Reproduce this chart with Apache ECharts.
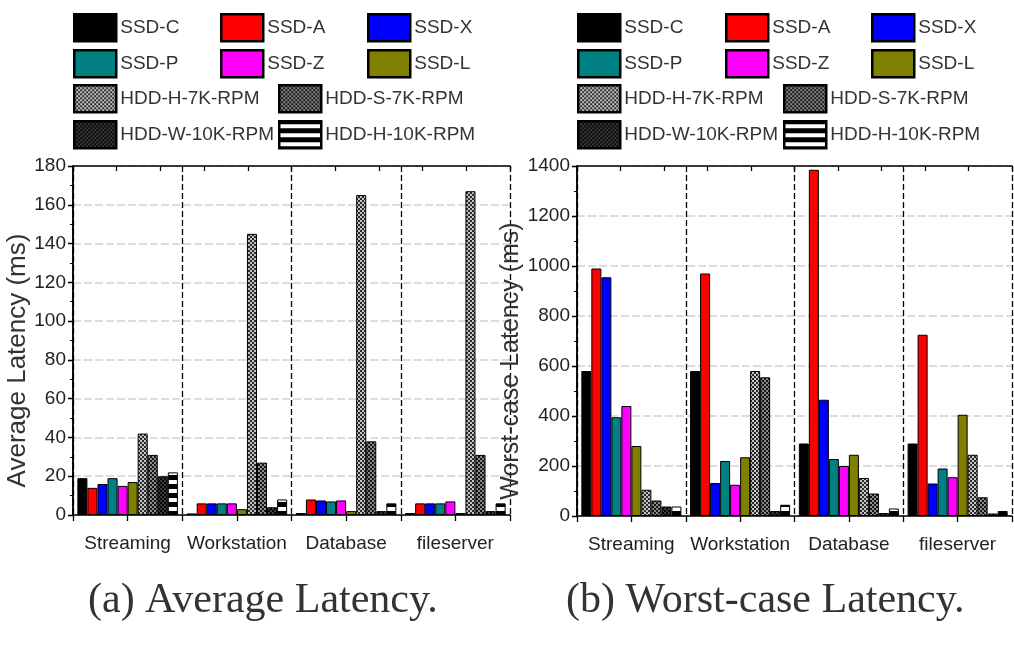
<!DOCTYPE html>
<html>
<head>
<meta charset="utf-8">
<script src="https://cdn.jsdelivr.net/npm/echarts@6/dist/echarts.min.js"></script>
<style>
html,body{margin:0;padding:0;background:#fff;}
#chart{width:1014px;height:646px;}
</style>
</head>
<body>
<div id="chart"></div>
<script>
// ---------- data ----------
const categories = ['Streaming', 'Workstation', 'Database', 'fileserver'];
const seriesNames = ['SSD-C', 'SSD-A', 'SSD-X', 'SSD-P', 'SSD-Z', 'SSD-L',
  'HDD-H-7K-RPM', 'HDD-S-7K-RPM', 'HDD-W-10K-RPM', 'HDD-H-10K-RPM'];

// Average latency (ms), one array per workload, values in seriesNames order
const avgStreaming   = [19, 14, 16, 19, 15, 17, 42, 31, 20, 22];
const avgWorkstation = [0.8, 6, 6, 6, 6, 3, 145, 27, 4, 8];
const avgDatabase    = [1, 8, 7.5, 7, 7.5, 2, 165, 38, 2, 6];
const avgFileserver  = [1, 6, 6, 6, 7, 1, 167, 31, 2, 6];

// Worst-case latency (ms)
const worstStreaming   = [580, 990, 955, 395, 440, 280, 105, 62, 38, 38];
const worstWorkstation = [580, 970, 132, 220, 125, 235, 580, 555, 20, 45];
const worstDatabase    = [290, 1385, 465, 228, 200, 245, 152, 90, 12, 30];
const worstFileserver  = [290, 725, 130, 190, 155, 405, 245, 75, 10, 20];

const avgTicks = [0, 180, 20];     // min, max, interval
const worstTicks = [0, 1400, 200];

const captionA = '(a) Average Latency.';
const captionB = '(b) Worst-case Latency.';

// ---------- styles ----------
function pattern(w, h, draw) {
  const c = document.createElement('canvas');
  c.width = w; c.height = h;
  draw(c.getContext('2d'));
  return { image: c, repeat: 'repeat' };
}
const fills = [
  '#000000', '#ff0000', '#0000ff', '#008080', '#ff00ff', '#808000',
  pattern(4, 4, g => { g.fillStyle = '#2a2a2a'; g.fillRect(0,0,4,4); g.fillStyle = '#c4c4c4'; g.fillRect(0,0,2,2); g.fillRect(2,2,2,2); }),
  pattern(4, 4, g => { g.fillStyle = '#151515'; g.fillRect(0,0,4,4); g.fillStyle = '#8a8a8a'; g.fillRect(0,0,2,2); g.fillRect(2,2,2,2); }),
  pattern(4, 4, g => { g.fillStyle = '#050505'; g.fillRect(0,0,4,4); g.fillStyle = '#3c3c3c'; g.fillRect(0,0,2,2); g.fillRect(2,2,2,2); }),
  pattern(4, 9, g => { g.fillStyle = '#000'; g.fillRect(0,0,4,9); g.fillStyle = '#fff'; g.fillRect(0,3,4,4); })
];

const FONT = 'Liberation Sans';
const grids = [
  { left: 73, right: 504, top: 166, bottom: 131 },
  { left: 577, right: 2, top: 166, bottom: 130 }
];

function axesFor(gi, ticks, title, nameGap, nameSize) {
  const xs = [
    { gridIndex: gi, type: 'category', data: categories, position: 'bottom',
      axisLine: { show: true, lineStyle: { color: '#000', width: 1.5 } },
      axisTick: { show: false },
      axisLabel: { fontFamily: FONT, fontSize: 19, color: '#222', margin: 19, interval: 0 },
      splitLine: { show: true, interval: 0, lineStyle: { color: '#000', width: 1.3, type: [6, 3] } } },
    { gridIndex: gi, type: 'value', position: 'bottom', min: 0, max: 8, interval: 1,
      axisLine: { show: false }, axisTick: { show: true, inside: false, length: 6, lineStyle: { color: '#000', width: 1.3 } },
      axisLabel: { show: false }, splitLine: { show: false } },
    { gridIndex: gi, type: 'value', position: 'top', min: 0, max: 10, interval: 1,
      axisLine: { show: true, onZero: false, lineStyle: { color: '#000', width: 1.5 } },
      axisTick: { show: true, inside: true, length: 5, lineStyle: { color: '#000', width: 1.3 } },
      axisLabel: { show: false }, splitLine: { show: false } }
  ];
  const ys = [
    { gridIndex: gi, type: 'value', position: 'left', min: ticks[0], max: ticks[1], interval: ticks[2],
      name: title, nameLocation: 'middle', nameGap: nameGap,
      nameTextStyle: { fontFamily: FONT, fontSize: nameSize, color: '#333', padding: [0, 40, 0, 0] },
      axisLine: { show: true, lineStyle: { color: '#000', width: 1.5 } },
      axisTick: { show: true, inside: false, length: 5, lineStyle: { color: '#000', width: 1.3 } },
      minorTick: { show: true, splitNumber: 2, length: 3, lineStyle: { color: '#000', width: 1 } },
      axisLabel: { fontFamily: FONT, fontSize: 19, color: '#222', margin: 7, formatter: v => String(v) },
      splitLine: { show: true, lineStyle: { color: '#d2d2d2', width: 1.5, type: [8, 3] } } },
    { gridIndex: gi, type: 'value', position: 'right', min: ticks[0], max: ticks[1], interval: ticks[2],
      axisLine: { show: true, lineStyle: { color: '#000', width: 1.5 } },
      axisTick: { show: true, inside: true, length: 5, lineStyle: { color: '#000', width: 1.3 } },
      minorTick: { show: true, splitNumber: 2, length: 3, lineStyle: { color: '#000', width: 1 } },
      axisLabel: { show: false }, splitLine: { show: false } }
  ];
  return { xs, ys };
}

const A = axesFor(0, avgTicks, 'Average Latency (ms)', 38, 26);
const B = axesFor(1, worstTicks, 'Worst-case Latency (ms)', 53, 25);

const avgByCategory = [avgStreaming, avgWorkstation, avgDatabase, avgFileserver];
const worstByCategory = [worstStreaming, worstWorkstation, worstDatabase, worstFileserver];

const series = [];
[[avgByCategory, 0, 0], [worstByCategory, 3, 2]].forEach(([table, xi, yi]) => {
  seriesNames.forEach((name, i) => {
    series.push({
      type: 'bar', name: name, xAxisIndex: xi, yAxisIndex: yi,
      data: table.map(row => row[i]),
      barGap: '0%', barCategoryGap: '8%',
      itemStyle: { color: fills[i], borderColor: '#000', borderWidth: 1 },
      emphasis: { disabled: true }
    });
  });
});

// legends: position of each entry (icon left, row top)
const legendRows = [13, 49, 84, 120];
const legendSlotsLeft = [73, 220, 367, 73, 220, 367, 73, 278, 73, 278];
const legendSlotsRight = [577, 725, 871, 577, 725, 871, 577, 783, 577, 783];
const legendRowOf = [0, 0, 0, 1, 1, 1, 2, 2, 3, 3];
const legends = [];
[legendSlotsLeft, legendSlotsRight].forEach(slots => {
  seriesNames.forEach((name, i) => {
    legends.push({
      data: [name], left: slots[i], top: legendRows[legendRowOf[i]], padding: 0,
      itemWidth: 42, itemHeight: 27, icon: 'rect', selectedMode: false,
      itemStyle: { borderColor: '#000', borderWidth: 2.5 },
      textStyle: { fontFamily: FONT, fontSize: 19, color: '#333', padding: [0, 0, 0, -1] }
    });
  });
});

const option = {
  animation: false,
  backgroundColor: '#fff',
  title: [
    { text: captionA, left: 88, top: 580, padding: 0,
      textStyle: { fontFamily: 'Liberation Serif', fontSize: 42, fontWeight: 'normal', color: '#333' } },
    { text: captionB, left: 566, top: 580, padding: 0,
      textStyle: { fontFamily: 'Liberation Serif', fontSize: 42, fontWeight: 'normal', color: '#333' } }
  ],
  legend: legends,
  grid: grids,
  xAxis: A.xs.concat(B.xs),
  yAxis: A.ys.concat(B.ys),
  series: series
};

const chart = echarts.init(document.getElementById('chart'), null, { renderer: 'canvas' });
chart.setOption(option);
</script>
</body>
</html>
